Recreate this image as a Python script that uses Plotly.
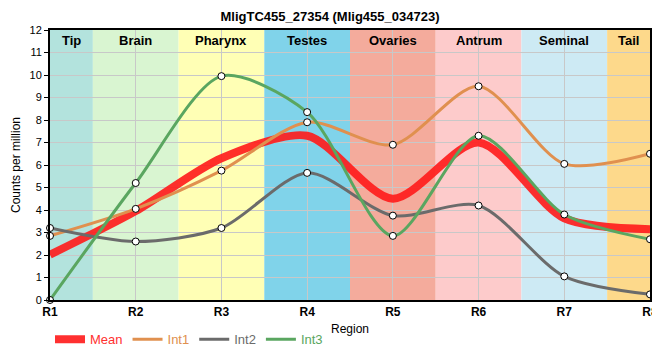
import plotly.graph_objects as go

regions = ["R1", "R2", "R3", "R4", "R5", "R6", "R7", "R8"]
int1 = [2.85, 4.05, 5.75, 7.9, 6.9, 9.5, 6.05, 6.5]
int2 = [3.2, 2.6, 3.2, 5.65, 3.75, 4.2, 1.05, 0.25]
int3 = [0.0, 5.2, 9.95, 8.35, 2.85, 7.3, 3.8, 2.7]
mean = [(a + b + c) / 3 for a, b, c in zip(int1, int2, int3)]

band_names = ["Tip", "Brain", "Pharynx", "Testes", "Ovaries", "Antrum", "Seminal", "Tail"]
band_colors = ["#b3e3dd", "#d9f5d1", "#ffffb5", "#80d3ea", "#f4ab9c", "#fdcbcb", "#cdeaf4", "#fdd98b"]

x = list(range(1, len(regions) + 1))
fig = go.Figure()

shapes = []
annotations = []
for i, (name, col) in enumerate(zip(band_names, band_colors)):
    x0 = max(1, x[i] - 0.5)
    x1 = min(len(regions), x[i] + 0.5)
    shapes.append(dict(type="rect", xref="x", yref="y", x0=x0, x1=x1, y0=0, y1=12,
                       fillcolor=col, line_width=0, layer="below"))
    annotations.append(dict(x=(x0 + x1) / 2, y=11.55, xref="x", yref="y", text="<b>%s</b>" % name,
                            showarrow=False, font=dict(size=13, color="black", family="Liberation Sans")))

mean_col = "rgba(255,25,25,0.9)"
fig.add_trace(go.Scatter(x=x, y=mean, mode="lines",
                         name="<span style='color:#ff3030'>Mean</span>",
                         line=dict(color=mean_col, width=8, shape="spline", smoothing=0.8)))
series = [("Int1", int1, "#e0904f"), ("Int2", int2, "#6b6b6b"), ("Int3", int3, "#5aa660")]
for name, vals, col in series:
    fig.add_trace(go.Scatter(x=x, y=vals, mode="lines",
                             name="<span style='color:%s'>%s</span>" % (col, name),
                             line=dict(color=col, width=3, shape="spline", smoothing=0.8)))
for name, vals, col in series:
    fig.add_trace(go.Scatter(x=x, y=vals, mode="markers", showlegend=False, cliponaxis=False,
                             marker=dict(size=7, color="white", line=dict(color="black", width=1))))

# page has an 8px body margin; size the figure so the plot lands where the reference has it
fig.update_layout(
    width=652, height=352,
    margin=dict(l=42, r=10, t=22, b=60, autoexpand=False),
    paper_bgcolor="white", plot_bgcolor="white",
    font=dict(family="Liberation Sans", size=11, color="black"),
    title=dict(text="<b>MligTC455_27354 (Mlig455_034723)</b>", x=(330 - 8) / 652, xanchor="center",
               yref="container", y=0.99, yanchor="top", pad=dict(t=0),
               font=dict(size=13, family="Liberation Sans")),
    shapes=shapes, annotations=annotations,
    legend=dict(orientation="h", x=0.0, xanchor="left", y=-0.09, yanchor="top",
                font=dict(size=13, family="Liberation Sans"), itemwidth=30,
                bgcolor="rgba(0,0,0,0)"),
    showlegend=True,
)
fig.update_xaxes(range=[1, 8], tickmode="array", tickvals=x, ticktext=["<b>%s</b>" % r for r in regions],
                 showgrid=True, gridcolor="#c8c8c8", gridwidth=1, zeroline=False, automargin=False,
                 showline=True, linecolor="black", linewidth=2, mirror=True,
                 tickfont=dict(size=12), title=dict(text="Region", standoff=6, font=dict(size=12)))
fig.update_yaxes(range=[0, 12], tickmode="linear", tick0=0, dtick=1, automargin=False,
                 showgrid=True, gridcolor="#c8c8c8", gridwidth=1, zeroline=False,
                 showline=True, linecolor="black", linewidth=2, mirror=True,
                 ticks="outside", ticklen=4, tickcolor="black",
                 tickfont=dict(size=11), title=dict(text="Counts per million", standoff=6, font=dict(size=12)))

fig.write_html("out.html", config={"displayModeBar": False})
